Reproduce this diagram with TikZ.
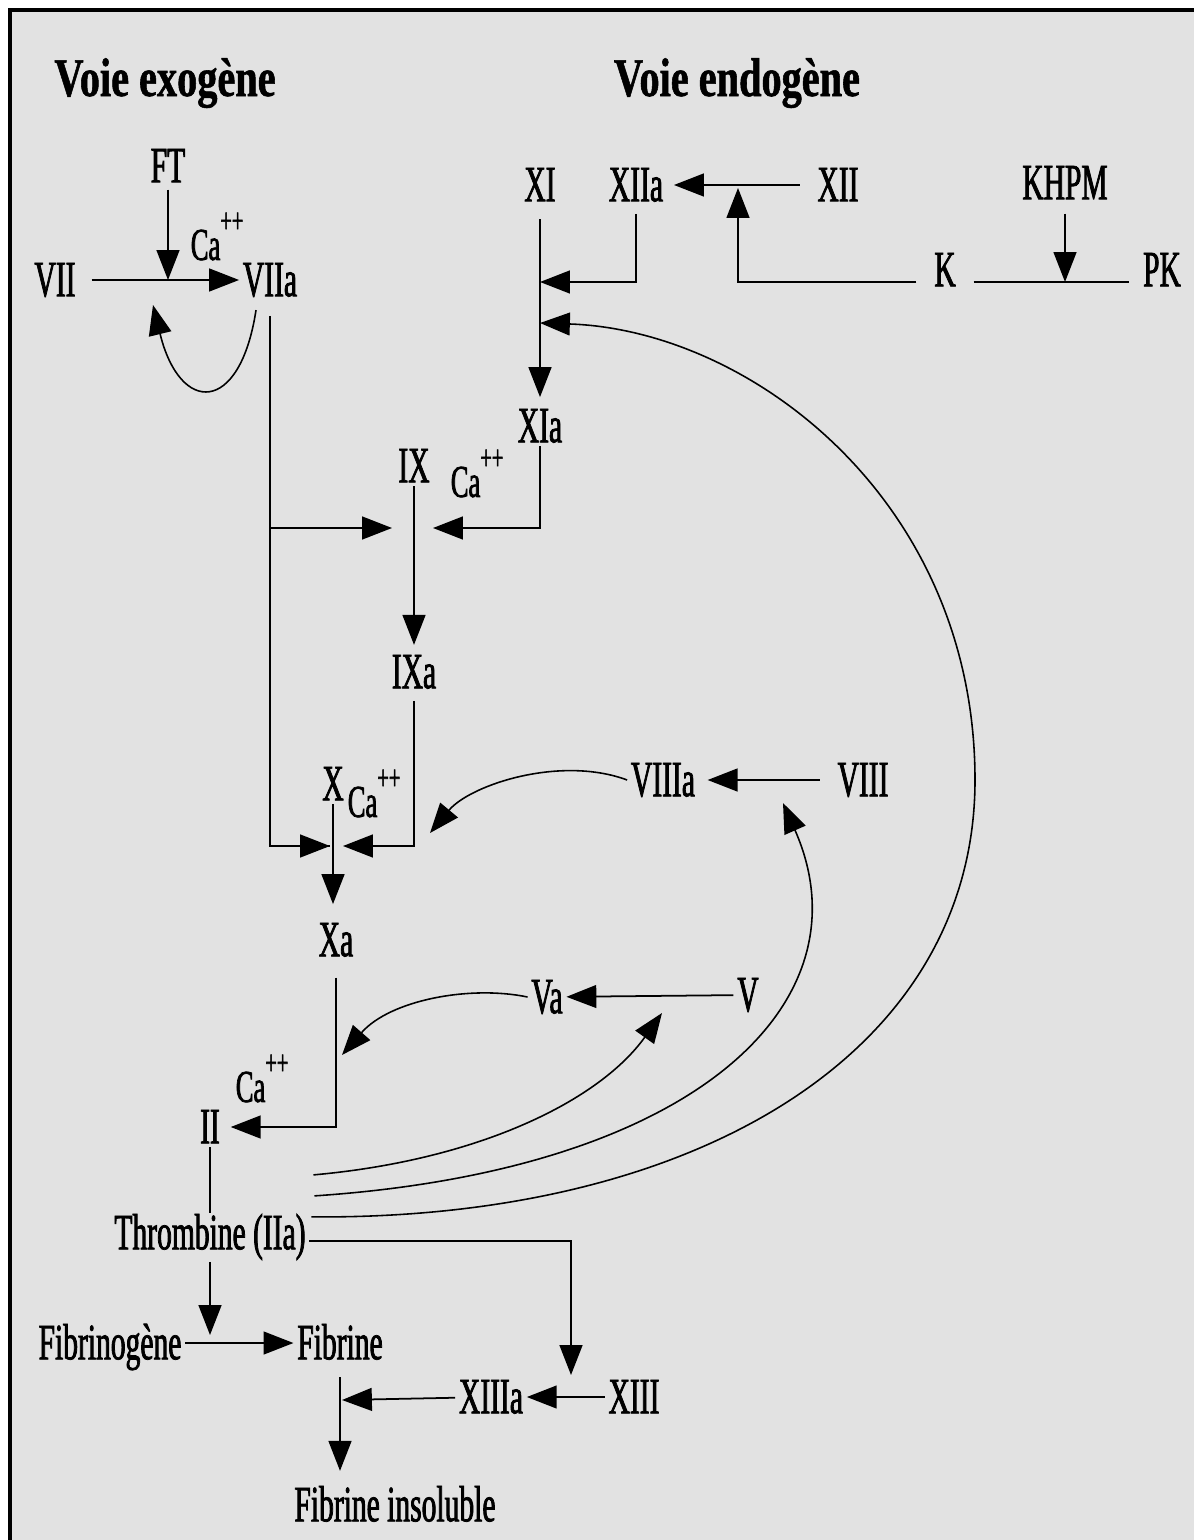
\documentclass[tikz,border=0pt]{standalone}
\usepackage{fontspec}
\usetikzlibrary{arrows.meta, calc}
\setmainfont{Liberation Serif}[FakeStretch=0.58, FakeBold=1.5]
\newfontfamily\titlefont{Liberation Serif}[FakeStretch=0.74, FakeBold=1]
\definecolor{paperColor}{RGB}{226, 226, 226}
\newcommand{\calcium}{Ca\raisebox{0.6em}{\fontsize{20}{20}\selectfont ++}}

\begin{document}
\begin{tikzpicture}[x=0.02cm, y=-0.02cm,
    factor/.style={inner sep=2pt, text height=18.5pt, text depth=0pt, font=\fontsize{29}{30}\selectfont},
    ion/.style={anchor=west, inner sep=2pt, text height=17pt, text depth=0pt, font=\fontsize{26}{27}\selectfont},
    heading/.style={text height=20.5pt, text depth=0pt, font=\titlefont\bfseries\fontsize{31}{33}\selectfont},
    flow/.style={line width=1pt, -{Triangle[length=17pt, width=13pt]}},
    feedback/.style={flow, line width=0.9pt},
    link/.style={line width=1pt}]
    % Page and frame
    \useasboundingbox (0, 0) rectangle (1194, 1540);
    \fill[white] (0, 0) rectangle (1194, 1540);
    \fill[paperColor] (10, 10) rectangle (1194, 1540);
    \draw[line width=1.8pt] (10, 1540) -- (10, 10) -- (1194, 10);

    % Headings
    \node[heading] (exo) at (165, 78) {Voie exogène};
    \node[heading] (endo) at (737, 78) {Voie endogène};

    % Voie exogene: FT, VII, VIIa
    \node[factor] (ft) at (168, 166) {FT};
    \node[factor] (f7) at (55, 280) {VII};
    \node[factor] (f7a) at (270, 280) {VIIa};
    \node[ion] (ca1) at (187, 245) {\calcium};

    % Voie endogene: XI, XII, K, PK
    \node[factor] (f11) at (540, 185) {XI};
    \node[factor] (f12a) at (636, 185) {XIIa};
    \node[factor] (f12) at (838, 185) {XII};
    \node[factor] (khpm) at (1065, 183) {KHPM};
    \node[factor] (k) at (945, 270) {K};
    \node[factor] (pk) at (1162, 270) {PK};
    \node[factor] (f11a) at (540, 426) {XIa};

    % IX, X and cofactors
    \node[factor] (f9) at (414, 466) {IX};
    \node[ion] (ca2) at (447, 482) {\calcium};
    \node[factor] (f9a) at (414, 672) {IXa};
    \node[factor] (f10) at (333, 784) {X};
    \node[ion] (ca3) at (344, 802) {\calcium};
    \node[factor] (f8a) at (663, 780) {VIIIa};
    \node[factor] (f8) at (863, 780) {VIII};
    \node[factor] (f10a) at (336, 940) {Xa};
    \node[factor] (f5a) at (547, 997) {Va};
    \node[factor] (f5) at (748, 995) {V};

    % Thrombin and fibrin
    \node[ion] (ca4) at (232, 1087) {\calcium};
    \node[factor] (f2) at (210, 1127) {II};
    \node[factor] (thr) at (210, 1233) {Thrombine (IIa)};
    \node[factor] (fgn) at (110, 1343) {Fibrinogène};
    \node[factor] (fib) at (340, 1343) {Fibrine};
    \node[factor] (f13a) at (491, 1397) {XIIIa};
    \node[factor] (f13) at (634, 1397) {XIII};
    \node[factor] (fins) at (395, 1505) {Fibrine insoluble};

    % Points where arrows meet a line
    \coordinate (j7) at (168, 280);
    \coordinate (in9L) at (392, 528);
    \coordinate (in9R) at (433, 528);
    \coordinate (in10L) at (330, 846);
    \coordinate (in10R) at (343, 846);
    \coordinate (in10V) at (430, 833);
    \coordinate (in11a) at (540, 282);
    \coordinate (in11b) at (540, 323);
    \coordinate (klev) at (1065, 282);
    \coordinate (j12) at (738, 188);
    \coordinate (in2V) at (342, 1055);
    \coordinate (toV) at (662, 1013);
    \coordinate (toVIII) at (783, 803);
    \coordinate (to13) at (571, 1375);
    \coordinate (jfib) at (210, 1335);
    \coordinate (infib) at (342, 1400);

    % Extrinsic arrows
    \draw[flow, shorten <=7pt] (f7) -- (f7a);
    \draw[flow, shorten <=2pt] (ft) -- (j7);
    \draw[feedback] ($(f7a.south)+(-14, 10)$) .. controls (240, 415) and (180, 415) .. (153, 305);
    \draw[link, shorten <=9pt] (f7a.south) |- (in10L);
    \draw[flow] (f7a.south |- in9L) -- (in9L);
    \draw[flow] (f7a.south |- in10L) -- (in10L);

    % Intrinsic arrows
    \draw[flow, shorten <=8pt, shorten >=5pt] (f11) -- (f11a);
    \draw[flow, shorten <=5pt] (f12a) |- (in11a);
    \draw[flow, shorten <=8pt, shorten >=4pt] (f12) -- (f12a);
    \draw[flow, shorten <=8pt] (k.west |- klev) -| (j12);
    \draw[link, shorten <=8pt, shorten >=6pt] (k.east |- klev) -- (pk.west |- klev);
    \draw[flow, shorten <=6pt] (khpm) -- (khpm |- klev);
    \draw[flow] (f11a) |- (in9R);
    \draw[flow, shorten >=4pt] (f9) -- (f9a);
    \draw[flow, shorten <=5pt] (f9a) |- (in10R);
    \draw[flow, shorten >=9pt] (f10) -- (f10 |- f10a.north);
    \draw[flow, shorten <=8pt, shorten >=5pt] (f8) -- (f8a);
    \draw[feedback] (f8a.west) .. controls (560, 755) and (470, 785) .. (in10V);

    % Common pathway
    \draw[flow, shorten <=10pt, shorten >=4pt] (f10a) |- (f2);
    \draw[flow] (f5) -- (f5a);
    \draw[feedback] (f5a.west) .. controls (470, 985) and (390, 1000) .. (in2V);
    \draw[link] (f2) -- (thr);

    % Thrombin feedback loops
    \draw[feedback] ($(thr.north east)+(4, -38)$) .. controls (480, 1160) and (600, 1100) .. (toV);
    \draw[feedback] ($(thr.north east)+(5, -17)$) .. controls (700, 1170) and (870, 1000) .. (toVIII);
    \draw[feedback] ($(thr.north east)+(2, 4)$) .. controls (700, 1220) and (975, 1050) .. (975, 780)
        .. controls (975, 500) and (750, 330) .. (in11b);

    % Fibrin formation
    \draw[flow] ($(thr.east)+(0, 8)$) -| (to13);
    \draw[flow, shorten <=5pt] (thr.south) -- (jfib);
    \draw[flow] (fgn) -- (fib);
    \draw[flow] (f13) -- (f13a);
    \draw[flow] (f13a) -- (infib);
    \draw[flow, shorten <=8pt, shorten >=8pt] (fib) -- (fib |- fins.north);
\end{tikzpicture}
\end{document}
